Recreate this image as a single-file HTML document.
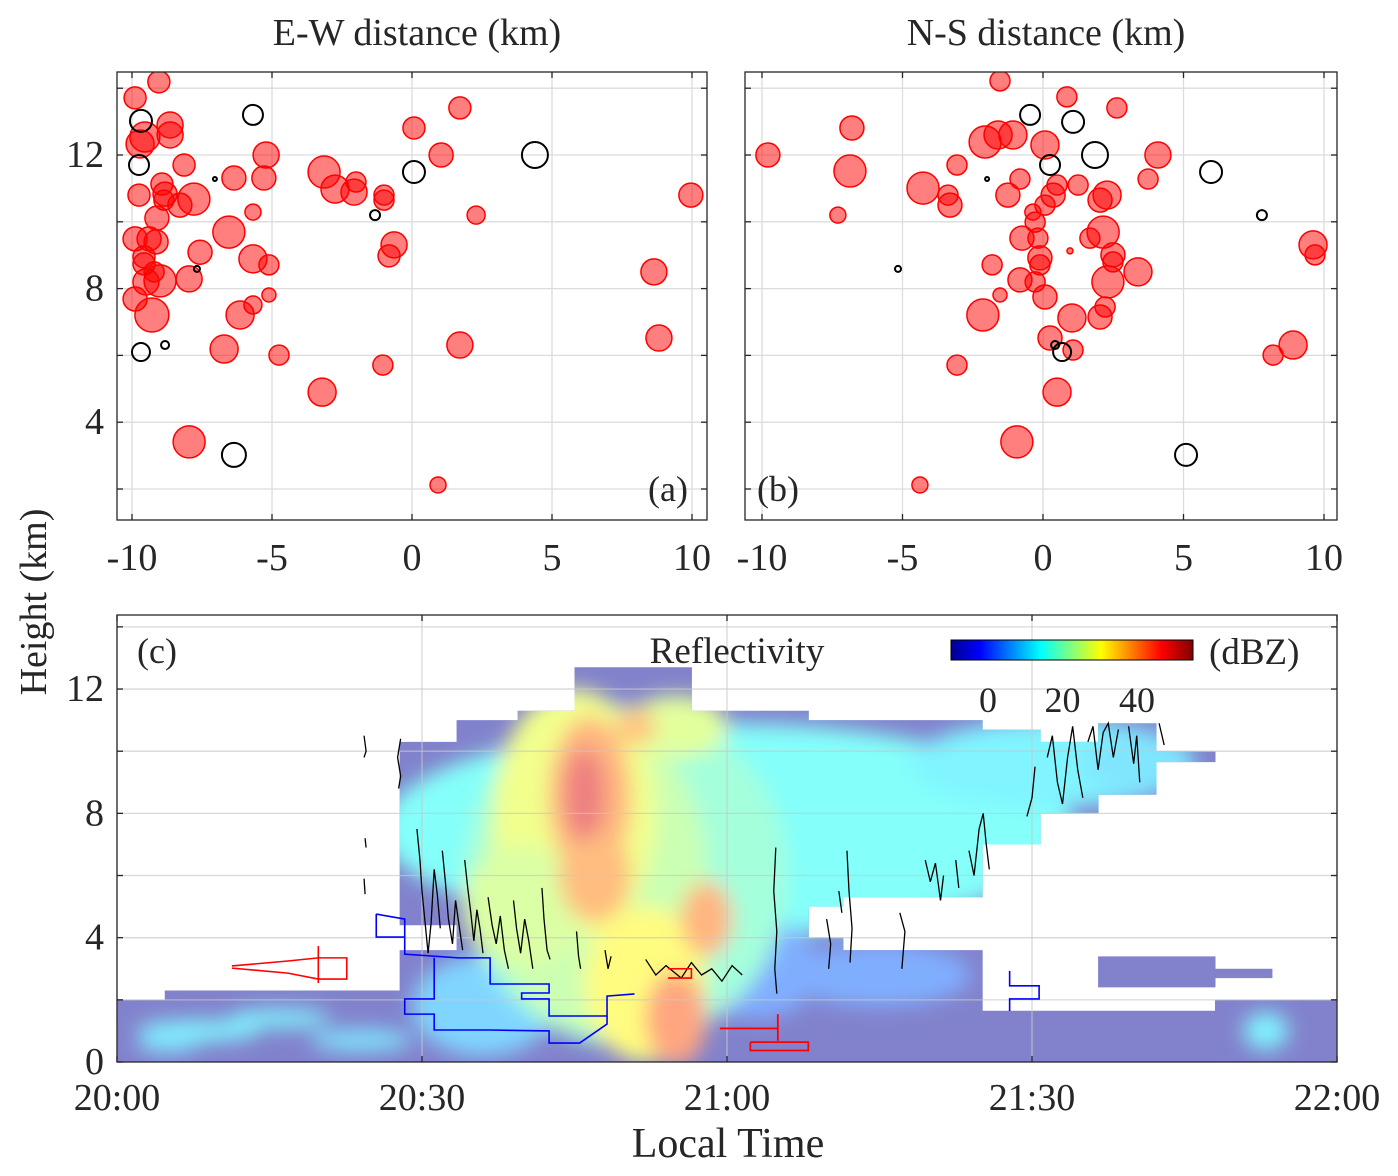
<!DOCTYPE html>
<html><head><meta charset="utf-8">
<style>
html,body{margin:0;padding:0;background:#fff;}
svg{display:block;font-family:"Liberation Serif",serif;}
</style></head>
<body>
<svg id="fig" width="1398" height="1176" viewBox="0 0 1398 1176" xmlns="http://www.w3.org/2000/svg">
<defs>
  <filter id="blur" x="-20%" y="-20%" width="140%" height="140%"><feGaussianBlur stdDeviation="10"/></filter>
  <clipPath id="clipA"><rect x="117" y="72" width="590" height="448"/></clipPath>
  <clipPath id="clipB"><rect x="745" y="72" width="592" height="448"/></clipPath>
  <clipPath id="clipEnv"></clipPath>
  <linearGradient id="jet" x1="0" x2="1" y1="0" y2="0">
    <stop offset="0" stop-color="#00008f"/><stop offset="0.12" stop-color="#0000ff"/>
    <stop offset="0.37" stop-color="#00ffff"/><stop offset="0.62" stop-color="#ffff00"/>
    <stop offset="0.87" stop-color="#ff0000"/><stop offset="1" stop-color="#800000"/>
  </linearGradient>
</defs>
<g id="gridA"></g>
<g id="gridB"></g>
<g id="gridC"></g>
<g id="pointsA" clip-path="url(#clipA)"></g>
<g id="pointsB" clip-path="url(#clipB)"></g>
<g id="heat"></g>
<g id="lines"></g>
<g id="axes"></g>
<text x="417" y="45" font-size="38" text-anchor="middle" fill="#262626">E-W distance (km)</text>
<text x="1046" y="45" font-size="38" text-anchor="middle" fill="#262626">N-S distance (km)</text>
<text transform="translate(46,602) rotate(-90)" font-size="38" text-anchor="middle" fill="#262626">Height (km)</text>
<text x="728" y="1157" font-size="42" text-anchor="middle" fill="#262626">Local Time</text>
<text x="648" y="501" font-size="36" fill="#262626">(a)</text>
<text x="757" y="501" font-size="36" fill="#262626">(b)</text>
<text x="137" y="663" font-size="36" fill="#262626">(c)</text>
<text x="737" y="663" font-size="37" text-anchor="middle" fill="#262626">Reflectivity</text>
<rect x="951" y="640" width="242" height="20" fill="url(#jet)" stroke="#000" stroke-width="1"/>
<text x="1209" y="664" font-size="37" fill="#262626">(dBZ)</text>
<g id="cbticks"></g>
</svg>
<script>
// ---------- data ----------
const redA = [[-9.04,14.19,11],[-9.89,13.71,11],[-9.54,12.54,15],[-9.71,12.33,14],[-8.64,12.9,13],[-8.64,12.6,13],[-8.14,11.7,11],[-8.93,11.13,11],[-9.75,10.8,11],[-8.82,10.83,12],[-8.86,10.65,10],[-7.79,10.68,16],[-8.29,10.5,12],[-9.11,10.11,12],[-6.36,11.31,12],[-5.29,11.31,12],[-5.21,12,13],[-5.68,10.29,8],[-6.54,9.69,16],[-7.57,9.09,12],[-5.68,8.89,14],[-5.11,8.71,10],[-9.89,9.49,12],[-9.39,9.49,12],[-9.14,9.4,12],[-9.57,8.95,11],[-9.57,8.74,11],[-9.21,8.5,10],[-9.0,8.23,16],[-9.5,8.2,13],[-7.96,8.29,13],[-9.89,7.69,12],[-9.29,7.21,17],[-6.14,7.21,14],[-5.68,7.51,9],[-5.11,7.81,7],[-6.71,6.19,14],[-4.75,6.01,10],[-7.96,3.41,16],[-3.14,11.49,16],[-2.75,10.98,14],[-2.0,11.19,10],[-2.07,10.89,13],[-1.0,10.8,10],[-1.0,10.65,10],[-0.64,9.31,13],[-0.82,8.98,11],[-1.04,5.71,10],[-3.21,4.9,14],[0.07,12.81,11],[1.04,12,12],[1.71,13.41,11],[2.29,10.2,9],[0.93,2.12,8],[1.71,6.31,13],[8.64,8.5,13],[8.82,6.52,13],[9.96,10.8,12]];
const blackA = [[-9.68,13.02,11],[-9.75,11.7,10],[-5.68,13.2,10],[-7.04,11.28,2],[-1.32,10.2,5],[-7.68,8.59,3],[-9.68,6.1,9],[-8.82,6.31,4],[-6.36,3.02,12],[0.07,11.49,11],[4.39,12,13]];
const redB = [[-1.53,14.22,10],[-9.79,12,12],[-6.8,12.81,12],[-6.87,11.52,16],[-3.06,11.7,10],[-2.06,12.39,16],[-1.6,12.6,14],[-1.07,12.6,14],[0.07,12.3,14],[0.85,13.74,10],[2.63,13.41,10],[4.09,12,13],[3.74,11.28,10],[1.25,11.1,10],[0.5,11.1,10],[0.36,10.8,12],[0.07,10.5,10],[-0.82,11.28,10],[-1.25,10.8,12],[-4.27,11.01,16],[-3.38,10.8,10],[-3.31,10.5,12],[-7.3,10.2,8],[-0.36,10.29,8],[-0.28,9.99,10],[-0.75,9.51,12],[-0.18,9.51,10],[1.67,9.51,10],[2.14,9.69,16],[2.28,10.8,14],[2.03,10.65,12],[2.49,9.01,12],[2.49,8.8,10],[2.31,8.2,16],[3.38,8.5,14],[-0.11,8.92,12],[-0.11,8.71,10],[-1.81,8.71,10],[-0.82,8.26,12],[-0.28,8.2,10],[0.07,7.75,12],[-1.53,7.81,7],[-2.14,7.21,16],[2.21,7.45,10],[2.03,7.15,12],[1.03,7.12,14],[0.25,6.52,12],[1.07,6.16,10],[-3.06,5.71,10],[0.5,4.9,14],[-0.93,3.41,16],[-4.38,2.12,8],[9.61,9.31,14],[9.68,9.01,10],[8.9,6.31,14],[8.19,6.01,10],[0.96,9.13,3]];
const blackB = [[-0.46,13.2,10],[1.07,12.99,11],[1.85,12,13],[0.25,11.7,10],[5.98,11.49,11],[7.79,10.2,5],[-1.99,11.28,2],[-5.16,8.59,3],[0.43,6.31,4],[0.68,6.1,9],[5.09,3.02,11]];
const distTicks = [-10,-5,0,5,10];
const hGrid = [2,4,6,8,10,12,14];
const hLabels = [4,8,12];
const timeTicks = [0,30,60,90,120];
const timeLabels = ["20:00","20:30","21:00","21:30","22:00"];
const hLabelsC = [0,4,8,12];
const cbTicks = [0,20,40];
// envelope of radar coverage: [t0(min), t1(min), hBottom(km), hTop(km)]
const envelope = [[0,4.7,0,2.0],[4.7,27.8,0,2.3],[27.8,33.4,0,3.6],[27.8,33.4,4.4,10.3],[33.4,39.4,0,11.0],[39.4,45.0,0,11.3],[45.0,56.5,0,12.7],[56.5,68.0,0,11.3],[68.0,71.4,0,4.0],[68.0,71.4,5.0,11.0],[71.4,85.1,0,3.6],[71.4,85.1,5.3,11.0],[85.1,90.8,0,1.65],[85.1,90.8,7.0,10.7],[90.8,96.5,0,1.65],[90.8,96.5,8.0,10.3],[96.5,102.2,0,1.65],[96.5,102.2,2.4,3.4],[96.5,102.2,8.6,10.9],[102.2,108.0,0,1.65],[102.2,108.0,2.4,3.4],[102.2,108.0,9.65,10.0],[108.0,113.6,0,2.0],[108.0,113.6,2.7,3.0],[113.6,120,0,2.0]];
// reflectivity blobs: [t, h, halfWidth(min), halfHeight(km), dBZ]
const blobs = [[60,7.5,34,3.4,15],[92,9.6,14,1.4,13],[100,9.6,5,0.9,11],[36,1.8,7,1.6,9],[63,3.0,6,1.6,4],[75,2.8,9,1.0,4],[8,1.0,6,0.35,13],[16,1.4,5,0.3,13],[24,0.7,5,0.35,11],[5,0.6,3,0.3,11],[113,1.0,2.2,0.6,13],[50,6,16,5.5,19],[47,6,11,5,24],[45,8,8,4,29],[52,2.5,6,2.5,31],[40,5,6,2,26],[55,10.8,5,1,27],[46.5,8.5,4,2.6,40],[47,6,3.5,1.5,39],[55,1.4,3,1.5,42],[58,4.6,2.5,1.2,40],[51,10.8,2,0.6,38],[46,8.6,2,1.5,49]];
const blueBox = [[25.5,4.76],[28.3,4.6],[28.3,4.02],[25.5,4.02],[25.5,4.76]];
const blueStep1 = [[28.3,4.0],[28.3,3.47],[33.6,3.35],[36.7,3.35],[36.7,2.51],[42.5,2.51],[42.5,2.22],[39.8,2.22],[39.8,2.03],[42.5,2.03],[42.5,1.48],[48.2,1.48],[48.2,2.12],[50.9,2.19]];
const blueStep2 = [[31.2,3.35],[31.2,2.03],[28.3,2.03],[28.3,1.54],[31.2,1.54],[31.2,1.03],[36.7,1.03],[42.5,1.0],[42.5,0.61],[45.5,0.61],[48.2,1.22],[48.2,1.48]];
const blueRight = [[87.8,2.93],[87.8,2.45],[90.7,2.45],[90.7,2.03],[87.8,2.03],[87.8,1.64]];
const redLeft = [[11.3,3.09],[16.8,3.25],[19.8,3.35],[22.6,3.35],[22.6,2.67],[19.8,2.67],[16.8,2.86],[11.3,3.02]];
const redLeftStem = [[19.8,3.73],[19.8,2.54]];
const redRight = [[59.3,1.08],[65.0,1.08],[65.0,1.54],[65.0,0.68]];
const redRightBox = [[62.3,0.64],[68.0,0.64],[68.0,0.37],[62.3,0.37],[62.3,0.64]];
const redSmall = [[54.2,3.0],[56.5,3.0],[56.5,2.7],[54.2,2.7]];
const contours = [
 [[24.3,10.5],[24.5,10.0],[24.3,9.8]],
 [[27.9,10.4],[27.6,9.8],[27.9,9.2],[27.7,8.8]],
 [[24.4,7.2],[24.5,6.9]],[[24.3,5.9],[24.4,5.4]],
 [[29.5,7.5],[29.8,6.5],[30.0,5.5],[30.3,4.5],[30.6,3.5],[30.9,4.5],[31.2,6.2],[31.5,5.4],[31.8,4.3]],
 [[32.0,6.8],[32.3,5.8],[32.6,4.6],[33.0,3.8],[33.3,5.2],[33.6,4.5],[34.0,3.6]],
 [[34.2,6.5],[34.5,5.6],[34.8,4.8],[35.1,3.9],[35.4,4.9],[35.7,4.3],[36.0,3.5]],
 [[36.5,5.3],[36.9,4.4],[37.3,3.8],[37.7,4.7],[38.1,3.6],[38.5,3.0]],
 [[39.0,5.2],[39.3,4.3],[39.7,3.5],[40.1,4.6],[40.5,3.9],[40.9,3.0]],
 [[41.8,5.6],[42.0,4.6],[42.3,3.6],[42.6,3.3]],
 [[45.2,4.2],[45.4,3.4],[45.6,3.0]],
 [[48.0,3.6],[48.3,3.0],[48.6,3.4]],
 [[52.0,3.3],[53.0,2.8],[54.0,3.1],[55.5,2.7],[56.5,3.2],[57.5,2.8],[58.5,3.0],[59.5,2.6],[60.5,3.1],[61.5,2.8]],
 [[64.8,6.9],[64.6,5.5],[64.9,4.2],[64.7,3.0],[64.9,2.2]],
 [[69.8,4.6],[70.2,3.8],[70.0,3.0]],
 [[71.8,6.8],[72.0,5.5],[72.3,4.3],[72.1,3.2]],
 [[71.0,5.5],[71.3,4.8]],
 [[77.0,4.8],[77.5,4.2],[77.2,3.0]],
 [[79.5,6.5],[80.0,5.8],[80.5,6.4],[81.0,5.2],[81.3,6.0]],
 [[82.5,6.5],[82.8,5.6]],
 [[83.8,6.8],[84.3,6.0],[84.8,7.5],[85.2,8.0],[85.5,7.0],[85.8,6.2]],
 [[89.5,7.9],[90.0,8.5],[90.3,9.5]],
 [[91.5,9.8],[92.0,10.5],[92.5,9.0],[93.0,8.3],[93.5,9.8],[94.0,10.8],[94.5,9.4],[95.0,8.5]],
 [[95.5,10.3],[96.0,10.8],[96.5,9.4],[97.0,10.6],[97.5,10.9],[98.0,9.8],[98.5,10.7]],
 [[99.5,10.8],[100.0,9.6],[100.3,10.5],[100.6,9.0]],
 [[102.5,10.9],[103.0,10.2]]
];

// ---------- scales ----------
const ax = v => 412 + v*28;
const bx = v => 1043 + v*28.1;
const ay = h => 155 - (h-12)*33.4;
const tx = t => 117 + t*1220/120;
const cy = h => 1062 - h*31.08;
const cbx = d => 988 + d*3.725;

const NS = "http://www.w3.org/2000/svg";
function mk(tag, attrs, parent){
  const e = document.createElementNS(NS, tag);
  for (const k in attrs) e.setAttribute(k, attrs[k]);
  parent.appendChild(e);
  return e;
}
const $ = id => document.getElementById(id);

function jetLight(d){
  const v = Math.max(0, Math.min(1, (d+10)/65));
  const f = x => Math.max(0, Math.min(1, 1.5 - Math.abs(4*v - x)));
  const r = f(3), g = f(2), b = f(1);
  const m = c => Math.round(255*(0.5*c + 0.5));
  return `rgb(${m(r)},${m(g)},${m(b)})`;
}

const FS = 38;
// ---------- panels a & b ----------
function scatterPanel(gridG, ptsG, xs, x0, x1, red, black, tag){
  for (const h of hGrid){
    const l = mk('line',{x1:x0,x2:x1,y1:ay(h),y2:ay(h),stroke:'#dcdcdc','stroke-width':1.3},gridG);
    
    
  }
  for (const d of distTicks){
    const l = mk('line',{x1:xs(d),x2:xs(d),y1:72,y2:520,stroke:'#dcdcdc','stroke-width':1.3},gridG);
    
    
  }
  for (const p of red){
    const c = mk('circle',{cx:xs(p[0]),cy:ay(p[1]),r:p[2],fill:'rgba(255,0,0,0.5)',stroke:'#ff0000','stroke-width':1.5},ptsG);
    
    
  }
  for (const p of black){
    const c = mk('circle',{cx:xs(p[0]),cy:ay(p[1]),r:p[2],fill:'none',stroke:'#000','stroke-width':2},ptsG);
    
    
  }
  const axG = $('axes');
  const box = mk('rect',{x:x0,y:72,width:x1-x0,height:448,fill:'none',stroke:'#262626','stroke-width':1.3},axG);
  
  
  for (const d of distTicks){
    const X = xs(d);
    mk('line',{x1:X,x2:X,y1:520,y2:514,stroke:'#262626','stroke-width':1.3},axG);
    mk('line',{x1:X,x2:X,y1:72,y2:78,stroke:'#262626','stroke-width':1.3},axG);
    const t = mk('text',{x:X,y:570,'font-size':FS,'text-anchor':'middle',fill:'#262626'},axG);
    t.textContent = String(d);
    
    
  }
  for (const h of hGrid){
    mk('line',{x1:x0,x2:x0+6,y1:ay(h),y2:ay(h),stroke:'#262626','stroke-width':1.3},axG);
    mk('line',{x1:x1,x2:x1-6,y1:ay(h),y2:ay(h),stroke:'#262626','stroke-width':1.3},axG);
  }
}
scatterPanel($('gridA'), $('pointsA'), ax, 117, 707, redA, blackA, 'panel-a');
scatterPanel($('gridB'), $('pointsB'), bx, 745, 1337, redB, blackB, 'panel-b');
for (const h of hLabels){
  const t = mk('text',{x:104,y:ay(h)+12,'font-size':FS,'text-anchor':'end',fill:'#262626'},$('axes'));
  t.textContent = String(h);
  
  
}

// ---------- panel c ----------
const clipEnv = $('clipEnv');
for (const e of envelope){
  mk('rect',{x:tx(e[0]),y:cy(e[3]),width:tx(e[1])-tx(e[0])+0.5,height:cy(e[2])-cy(e[3])},clipEnv);
}
const heat = $('heat');
const heatInner = mk('g',{'clip-path':'url(#clipEnv)'},heat);
const base = mk('rect',{x:117,y:615,width:1220,height:447,fill:'#8282cc'},heatInner);


const blobG = mk('g',{filter:'url(#blur)'},heatInner);
for (const b of blobs){
  const el = mk('ellipse',{cx:tx(b[0]),cy:cy(b[1]),rx:tx(b[2])-117,ry:b[3]*31.08,fill:jetLight(b[4])},blobG);
  
  
}
for (const h of hGrid){
  const l = mk('line',{x1:117,x2:1337,y1:cy(h),y2:cy(h),stroke:'rgba(200,200,200,0.7)','stroke-width':1.3},$('lines'));
  
  
}
for (const t of timeTicks){
  const l = mk('line',{x1:tx(t),x2:tx(t),y1:615,y2:1062,stroke:'rgba(200,200,200,0.7)','stroke-width':1.3},$('lines'));
  
  
}
function poly(pts, color, w, name){
  const p = mk('polyline',{points:pts.map(q=>tx(q[0])+','+cy(q[1])).join(' '),fill:'none',stroke:color,'stroke-width':w},$('lines'));
  
  
}
for (const c of contours) poly(c,'#000',1.3,'contour-line');
poly(blueBox,'#0000ff',1.6,'blue-trace-box');
poly(blueStep1,'#0000ff',1.6,'blue-trace-upper');
poly(blueStep2,'#0000ff',1.6,'blue-trace-lower');
poly(blueRight,'#0000ff',1.6,'blue-trace-right');
poly(redLeft,'#ff0000',1.6,'red-trace-left');
poly(redLeftStem,'#ff0000',1.6,'red-trace-left-stem');
poly(redRight,'#ff0000',1.8,'red-trace-right');
poly(redRightBox,'#ff0000',1.8,'red-trace-right-box');
poly(redSmall,'#ff0000',1.6,'red-trace-small');

const axG = $('axes');
const boxC = mk('rect',{x:117,y:615,width:1220,height:447,fill:'none',stroke:'#262626','stroke-width':1.3},axG);


timeTicks.forEach((t,i)=>{
  const X = tx(t);
  mk('line',{x1:X,x2:X,y1:1062,y2:1056,stroke:'#262626','stroke-width':1.3},axG);
  mk('line',{x1:X,x2:X,y1:615,y2:621,stroke:'#262626','stroke-width':1.3},axG);
  const tt = mk('text',{x:X,y:1110,'font-size':FS,'text-anchor':'middle',fill:'#262626'},axG);
  tt.textContent = timeLabels[i];
  
  
});
for (const h of hGrid.concat([0])){
  mk('line',{x1:117,x2:123,y1:cy(h),y2:cy(h),stroke:'#262626','stroke-width':1.3},axG);
  mk('line',{x1:1337,x2:1331,y1:cy(h),y2:cy(h),stroke:'#262626','stroke-width':1.3},axG);
}
for (const h of hLabelsC){
  const t = mk('text',{x:104,y:cy(h)+12,'font-size':FS,'text-anchor':'end',fill:'#262626'},axG);
  t.textContent = String(h);
  
  
}
for (const d of cbTicks){
  const t = mk('text',{x:cbx(d),y:712,'font-size':36,'text-anchor':'middle',fill:'#262626'},$('cbticks'));
  t.textContent = String(d);
  
  
}
</script>
</body></html>
